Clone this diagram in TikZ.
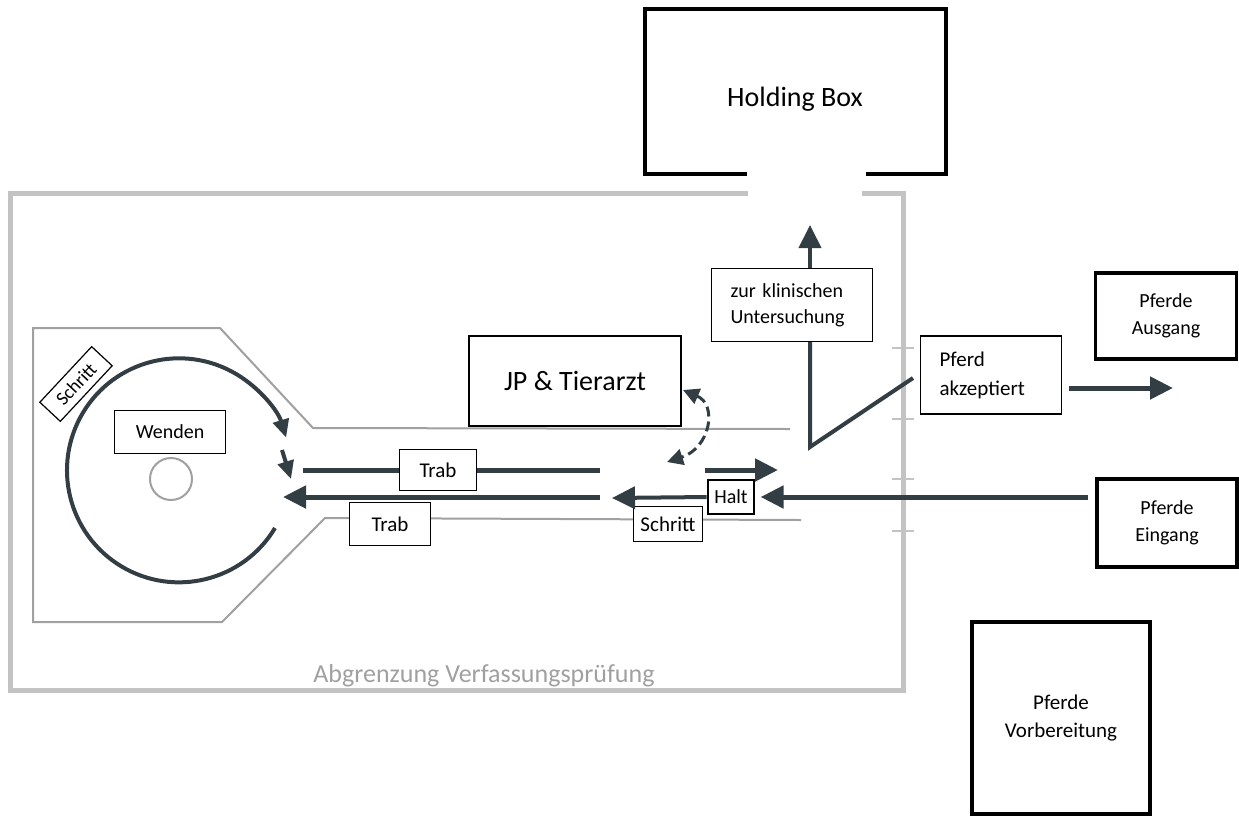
\documentclass[tikz,border=0pt]{standalone}
\usepackage{fontspec}
\setmainfont{Carlito}
\usepackage{xcolor}
\usetikzlibrary{arrows.meta}
\definecolor{trackdark}{RGB}{50,62,68}
\definecolor{bordergray}{RGB}{195,195,195}
\definecolor{lanegray}{RGB}{160,160,160}

\begin{document}
\begin{tikzpicture}[x=0.5pt,y=-0.5pt,
  box/.style={draw, line width=0.6pt, fill=white, inner sep=0pt, align=center, font=\fontsize{10}{12}\selectfont},
  roombox/.style={draw, line width=1.6pt, inner sep=0pt, align=center, font=\fontsize{10}{13.5}\selectfont},
  roomline/.style={line width=1.6pt},
  border/.style={draw=bordergray, line width=2.5pt},
  lane/.style={draw=lanegray, line width=1pt},
  track/.style={draw=trackdark, line width=2.5pt},
  trackthin/.style={draw=trackdark, line width=2pt},
  tipbig/.style={-{Triangle[length=11.5pt,width=11pt]}, trackdark},
  tipsmall/.style={-{Triangle[length=9pt,width=8pt]}, trackdark},
  tick/.style={draw=bordergray, line width=0.8pt}]
\useasboundingbox (0,0) rectangle (1239,816);

% Abgrenzung
\draw[border] (748,193) -- (10,193) -- (10,690) -- (903,690) -- (903,193) -- (862,193);
\foreach \y in {348,419,479,531}
  \draw[tick] (892,\y) -- (914,\y);
\node[anchor=base, text=lanegray, font=\fontsize{13}{15}\selectfont] (abgrenzung) at (484,682) {Abgrenzung Verfassungsprüfung};

% Holding Box
\draw[roomline] (747,174) -- (645,174) -- (645,9) -- (946,9) -- (946,174) -- (866,174);
\node[anchor=base, font=\fontsize{14}{16}\selectfont] (holding) at (795,106) {Holding Box};

% Bahn
\draw[lane] (790,429) -- (313,428) -- (220,328) -- (33,328) -- (33,622) -- (222,622) -- (325,518) -- (801,520);
\draw[lanegray, line width=1pt] (171,479) circle[radius=10.5pt];
\draw[trackthin, tipsmall] (275,528) arc[start angle=-31, end angle=-343, radius=56pt];
\draw[trackthin, tipsmall] (282,450) -- (291,479);
\node[box, rotate=47, minimum width=38pt, minimum height=14pt, inner xsep=2.5pt, font=\fontsize{9.5}{11}\selectfont] (schrittring) at (76,384) {Schritt};
\node[box, minimum width=55.5pt, minimum height=21.5pt] (wenden) at (170,432) {Wenden};

\draw[track] (303,470) -- (600,470);
\draw[track, tipbig] (600,497) -- (283,497);
\draw[track, tipbig] (705,470) -- (778,470);
\node[box, minimum width=38.5pt, minimum height=20.5pt, font=\fontsize{10.5}{12}\selectfont] (trabup) at (438,470) {Trab};
\node[box, minimum width=40.5pt, minimum height=21.5pt, font=\fontsize{10.5}{12}\selectfont] (trabdown) at (390,524) {Trab};

\node[box, minimum width=23pt, minimum height=17pt] (halt) at (731,497) {Halt};
\node[box, minimum width=34.5pt, minimum height=17.5pt, font=\fontsize{10.5}{12}\selectfont] (schritt) at (668,524) {Schritt};
\draw[trackthin, tipbig, shorten <=0.4pt] (halt.west) -- (612,498);

\node[box, minimum width=106pt, minimum height=45pt, font=\fontsize{14}{16}\selectfont] (jp) at (575,381) {JP \& Tierarzt};
\draw[trackdark, line width=1.5pt, dash pattern=on 5pt off 2.5pt, {Triangle[length=8pt,width=8pt]}-{Triangle[length=8pt,width=8pt]}]
  (683,390) .. controls (718,405) and (710,448) .. (667,462);

% Ausgang / Eingang
\node[box, text width=61.5pt, inner xsep=9.5pt, minimum height=36.5pt, align=left, font=\fontsize{10}{13}\selectfont] (klinik) at (792,305) {zur klinischen\\Untersuchung};
\draw[trackthin, tipbig] (klinik.north -| 810,0) -- (810,225);
\draw[trackthin, line join=miter] (klinik.south -| 810,0) -- (810,447) -- (913,378);

\node[box, text width=51.5pt, inner xsep=9.5pt, minimum height=39pt, align=left, font=\fontsize{10.5}{14.5}\selectfont] (akzeptiert) at (991,375) {Pferd\\akzeptiert};
\coordinate (ausgangtip) at (1173,388);
\draw[track, tipbig] (akzeptiert.east |- ausgangtip) ++(7,0) -- (ausgangtip);

\node[roombox, minimum width=70.5pt, minimum height=43pt] (ausgang) at (1166,316) {Pferde\\Ausgang};
\node[roombox, minimum width=70pt, minimum height=44pt] (eingang) at (1167,523) {Pferde\\Eingang};
\draw[track, tipbig, shorten <=3.5pt, shorten >=3pt] (eingang.west |- halt.east) -- (halt.east);

\node[roombox, minimum width=89pt, minimum height=96pt, font=\fontsize{10.5}{14}\selectfont] (vorbereitung) at (1061,718) {Pferde\\Vorbereitung};
\end{tikzpicture}
\end{document}
